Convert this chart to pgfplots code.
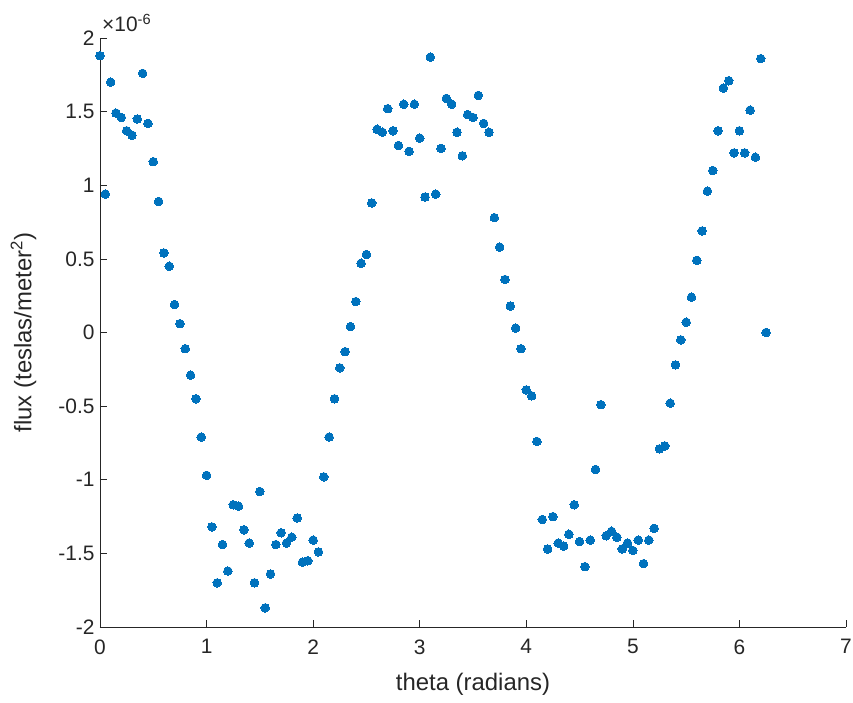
\documentclass[border=0pt]{standalone}
\usepackage{fontspec}
\setmainfont{Liberation Sans}
\usepackage{pgfplots}
\usepackage{pgfplotstable}
\pgfplotsset{compat=1.18}
\definecolor{mblue}{RGB}{0,114,189}
\definecolor{axgray}{gray}{0.15}

% flux samples, in units of 1e-6 teslas/meter^2
\pgfplotstableread{
theta flux
0.00 1.88
0.05 0.94
0.10 1.70
0.15 1.49
0.20 1.46
0.25 1.37
0.30 1.34
0.35 1.45
0.40 1.76
0.45 1.42
0.50 1.16
0.55 0.89
0.60 0.54
0.65 0.45
0.70 0.19
0.75 0.06
0.80 -0.11
0.85 -0.29
0.90 -0.45
0.95 -0.71
1.00 -0.97
1.05 -1.32
1.10 -1.70
1.15 -1.44
1.20 -1.62
1.25 -1.17
1.30 -1.18
1.35 -1.34
1.40 -1.43
1.45 -1.70
1.50 -1.08
1.55 -1.87
1.60 -1.64
1.65 -1.44
1.70 -1.36
1.75 -1.43
1.80 -1.39
1.85 -1.26
1.90 -1.56
1.95 -1.55
2.00 -1.41
2.05 -1.49
2.10 -0.98
2.15 -0.71
2.20 -0.45
2.25 -0.24
2.30 -0.13
2.35 0.04
2.40 0.21
2.45 0.47
2.50 0.53
2.55 0.88
2.60 1.38
2.65 1.36
2.70 1.52
2.75 1.37
2.80 1.27
2.85 1.55
2.90 1.23
2.95 1.55
3.00 1.32
3.05 0.92
3.10 1.87
3.15 0.94
3.20 1.25
3.25 1.59
3.30 1.55
3.35 1.36
3.40 1.20
3.45 1.48
3.50 1.46
3.55 1.61
3.60 1.42
3.65 1.36
3.70 0.78
3.75 0.58
3.80 0.36
3.85 0.18
3.90 0.03
3.95 -0.11
4.00 -0.39
4.05 -0.43
4.10 -0.74
4.15 -1.27
4.20 -1.47
4.25 -1.25
4.30 -1.43
4.35 -1.45
4.40 -1.37
4.45 -1.17
4.50 -1.42
4.55 -1.59
4.60 -1.41
4.65 -0.93
4.70 -0.49
4.75 -1.38
4.80 -1.35
4.85 -1.39
4.90 -1.47
4.95 -1.43
5.00 -1.48
5.05 -1.41
5.10 -1.57
5.15 -1.41
5.20 -1.33
5.25 -0.79
5.30 -0.77
5.35 -0.48
5.40 -0.22
5.45 -0.05
5.50 0.07
5.55 0.24
5.60 0.49
5.65 0.69
5.70 0.96
5.75 1.10
5.80 1.37
5.85 1.66
5.90 1.71
5.95 1.22
6.00 1.37
6.05 1.22
6.10 1.51
6.15 1.19
6.20 1.86
6.25 0.00
}\fluxdata

\begin{document}
\begin{tikzpicture}
\useasboundingbox (-100bp,-76bp) rectangle (753bp,627bp);
\begin{axis}[
  scale only axis,
  width=746bp, height=589bp,
  xmin=0, xmax=7, ymin=-2, ymax=2,
  clip=false,
  axis lines*=left,
  axis line style={axgray, line width=0.6bp},
  xtick={0,1,...,7},
  ytick={-2,-1.5,...,2},
  tick align=inside,
  major tick length=7bp,
  tick style={axgray, line width=0.6bp},
  /pgf/number format/assume math mode=true,
  tick label style={font=\fontsize{21}{25}\selectfont, text=axgray},
  xticklabel style={yshift=-9bp},
  yticklabel style={xshift=-2bp},
  label style={font=\fontsize{24}{28}\selectfont, text=axgray},
  xlabel={theta (radians)},
  ylabel={flux (teslas/meter\textsuperscript{2})},
  xlabel style={at={(axis description cs:0.5,-0.107)}, anchor=base},
  ylabel style={at={(axis description cs:-0.1025,0.5)}, anchor=center},
]
\addplot[only marks, color=mblue, mark=*, mark size=4.3bp,
         mark options={fill=mblue, draw=mblue, line width=0pt}]
  table[x=theta, y=flux] {\fluxdata};
\node[anchor=base west, inner sep=0pt, text=axgray, font=\fontsize{21}{25}\selectfont]
  at (rel axis cs:0,1) [xshift=2bp, yshift=6bp] {×10\textsuperscript{-6}};
\end{axis}
\end{tikzpicture}
\end{document}
